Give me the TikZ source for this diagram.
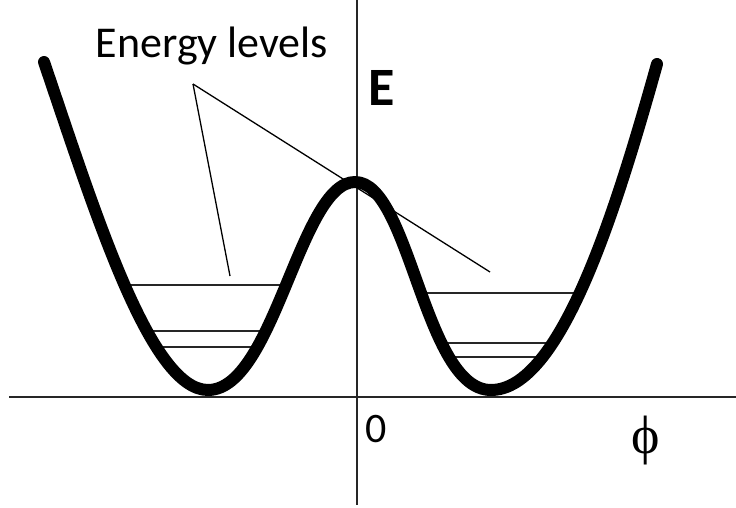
\documentclass[tikz,border=0pt]{standalone}
\usepackage{fontspec}
\setmainfont{Carlito}
\newfontfamily\phifont{Liberation Serif}
\begin{document}
\begin{tikzpicture}[x=1bp,y=-1bp,
  axis/.style={line width=2bp,black!85},
  curve/.style={line width=12bp,black,line cap=round,line join=round},
  level/.style={line width=2bp,black!85},
  pointer/.style={line width=1.3bp,black},
  lbl/.style={inner sep=0pt,anchor=center}]
\useasboundingbox (0,0) rectangle (736,508);
\fill[white] (0,0) rectangle (736,508);
% axes
\coordinate (xl) at (9,397);
\coordinate (xr) at (736,397);
\coordinate (yt) at (357,0);
\coordinate (yb) at (357,505);
\draw[axis] (xl) -- (xr);
\draw[axis] (yt) -- (yb);
% energy levels
\draw[level] (130,285) -- (282,285);
\draw[level] (152,331) -- (262,331);
\draw[level] (162,347) -- (252,347);
\draw[level] (425,293) -- (575,293);
\draw[level] (445,343) -- (547,343);
\draw[level] (455,357) -- (538,357);
% curve
\draw[curve] (44,62) .. controls (95,212) and (150,390) .. (208,390)
  .. controls (274,390) and (300,182) .. (355,182)
  .. controls (410,182) and (424,390) .. (491,390)
  .. controls (560,390) and (615,214) .. (657,64);
% labels
\node[lbl] (lab) at (212,46) {\fontsize{44bp}{50bp}\selectfont Energy levels};
\node[lbl] (E) at (382,88) {\fontsize{54bp}{60bp}\selectfont\bfseries E};
\node[lbl] (zero) at (376,429) {\fontsize{42bp}{48bp}\selectfont 0};
\node[lbl] (phi) at (646,441) {\fontsize{54bp}{60bp}\phifont ϕ};
% pointers
\coordinate (p0) at (193,84);
\coordinate (pl) at (230,276);
\coordinate (pr) at (490,272);
\draw[pointer] (p0) -- (pl);
\draw[pointer] (p0) -- (pr);
\end{tikzpicture}
\end{document}
